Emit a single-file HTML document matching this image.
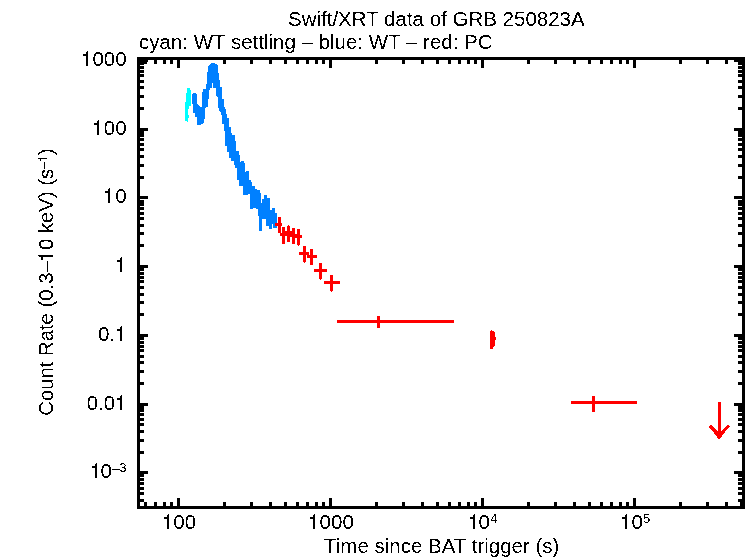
<!DOCTYPE html>
<html><head><meta charset="utf-8"><style>html,body{margin:0;padding:0;background:#fff;}svg{display:block;}</style></head>
<body><svg width="746" height="558" viewBox="0 0 746 558" shape-rendering="crispEdges">
<defs><filter id="th" x="0" y="0" width="746" height="558" filterUnits="userSpaceOnUse"><feComponentTransfer><feFuncA type="discrete" tableValues="0 1"/></feComponentTransfer></filter></defs>
<rect width="746" height="558" fill="#fff"/>
<rect x="137" y="57" width="608" height="3" fill="#000"/>
<rect x="137" y="506" width="608" height="3" fill="#000"/>
<rect x="137" y="57" width="3" height="452" fill="#000"/>
<rect x="742" y="57" width="3" height="452" fill="#000"/>
<rect x="144" y="502" width="3" height="4" fill="#000"/>
<rect x="144" y="60" width="3" height="4" fill="#000"/>
<rect x="154" y="502" width="3" height="4" fill="#000"/>
<rect x="154" y="60" width="3" height="4" fill="#000"/>
<rect x="163" y="502" width="3" height="4" fill="#000"/>
<rect x="163" y="60" width="3" height="4" fill="#000"/>
<rect x="170" y="502" width="3" height="4" fill="#000"/>
<rect x="170" y="60" width="3" height="4" fill="#000"/>
<rect x="177" y="498" width="3" height="8" fill="#000"/>
<rect x="177" y="60" width="3" height="8" fill="#000"/>
<rect x="223" y="502" width="3" height="4" fill="#000"/>
<rect x="223" y="60" width="3" height="4" fill="#000"/>
<rect x="250" y="502" width="3" height="4" fill="#000"/>
<rect x="250" y="60" width="3" height="4" fill="#000"/>
<rect x="269" y="502" width="3" height="4" fill="#000"/>
<rect x="269" y="60" width="3" height="4" fill="#000"/>
<rect x="284" y="502" width="3" height="4" fill="#000"/>
<rect x="284" y="60" width="3" height="4" fill="#000"/>
<rect x="296" y="502" width="3" height="4" fill="#000"/>
<rect x="296" y="60" width="3" height="4" fill="#000"/>
<rect x="306" y="502" width="3" height="4" fill="#000"/>
<rect x="306" y="60" width="3" height="4" fill="#000"/>
<rect x="315" y="502" width="3" height="4" fill="#000"/>
<rect x="315" y="60" width="3" height="4" fill="#000"/>
<rect x="322" y="502" width="3" height="4" fill="#000"/>
<rect x="322" y="60" width="3" height="4" fill="#000"/>
<rect x="329" y="498" width="3" height="8" fill="#000"/>
<rect x="329" y="60" width="3" height="8" fill="#000"/>
<rect x="375" y="502" width="3" height="4" fill="#000"/>
<rect x="375" y="60" width="3" height="4" fill="#000"/>
<rect x="402" y="502" width="3" height="4" fill="#000"/>
<rect x="402" y="60" width="3" height="4" fill="#000"/>
<rect x="421" y="502" width="3" height="4" fill="#000"/>
<rect x="421" y="60" width="3" height="4" fill="#000"/>
<rect x="436" y="502" width="3" height="4" fill="#000"/>
<rect x="436" y="60" width="3" height="4" fill="#000"/>
<rect x="448" y="502" width="3" height="4" fill="#000"/>
<rect x="448" y="60" width="3" height="4" fill="#000"/>
<rect x="458" y="502" width="3" height="4" fill="#000"/>
<rect x="458" y="60" width="3" height="4" fill="#000"/>
<rect x="467" y="502" width="3" height="4" fill="#000"/>
<rect x="467" y="60" width="3" height="4" fill="#000"/>
<rect x="474" y="502" width="3" height="4" fill="#000"/>
<rect x="474" y="60" width="3" height="4" fill="#000"/>
<rect x="481" y="498" width="3" height="8" fill="#000"/>
<rect x="481" y="60" width="3" height="8" fill="#000"/>
<rect x="527" y="502" width="3" height="4" fill="#000"/>
<rect x="527" y="60" width="3" height="4" fill="#000"/>
<rect x="554" y="502" width="3" height="4" fill="#000"/>
<rect x="554" y="60" width="3" height="4" fill="#000"/>
<rect x="573" y="502" width="3" height="4" fill="#000"/>
<rect x="573" y="60" width="3" height="4" fill="#000"/>
<rect x="588" y="502" width="3" height="4" fill="#000"/>
<rect x="588" y="60" width="3" height="4" fill="#000"/>
<rect x="600" y="502" width="3" height="4" fill="#000"/>
<rect x="600" y="60" width="3" height="4" fill="#000"/>
<rect x="610" y="502" width="3" height="4" fill="#000"/>
<rect x="610" y="60" width="3" height="4" fill="#000"/>
<rect x="619" y="502" width="3" height="4" fill="#000"/>
<rect x="619" y="60" width="3" height="4" fill="#000"/>
<rect x="626" y="502" width="3" height="4" fill="#000"/>
<rect x="626" y="60" width="3" height="4" fill="#000"/>
<rect x="633" y="498" width="3" height="8" fill="#000"/>
<rect x="633" y="60" width="3" height="8" fill="#000"/>
<rect x="679" y="502" width="3" height="4" fill="#000"/>
<rect x="679" y="60" width="3" height="4" fill="#000"/>
<rect x="706" y="502" width="3" height="4" fill="#000"/>
<rect x="706" y="60" width="3" height="4" fill="#000"/>
<rect x="725" y="502" width="3" height="4" fill="#000"/>
<rect x="725" y="60" width="3" height="4" fill="#000"/>
<rect x="740" y="502" width="3" height="4" fill="#000"/>
<rect x="740" y="60" width="3" height="4" fill="#000"/>
<rect x="140" y="499" width="4" height="3" fill="#000"/>
<rect x="738" y="499" width="4" height="3" fill="#000"/>
<rect x="140" y="492" width="4" height="3" fill="#000"/>
<rect x="738" y="492" width="4" height="3" fill="#000"/>
<rect x="140" y="487" width="4" height="3" fill="#000"/>
<rect x="738" y="487" width="4" height="3" fill="#000"/>
<rect x="140" y="482" width="4" height="3" fill="#000"/>
<rect x="738" y="482" width="4" height="3" fill="#000"/>
<rect x="140" y="478" width="4" height="3" fill="#000"/>
<rect x="738" y="478" width="4" height="3" fill="#000"/>
<rect x="140" y="474" width="4" height="3" fill="#000"/>
<rect x="738" y="474" width="4" height="3" fill="#000"/>
<rect x="140" y="471" width="8" height="3" fill="#000"/>
<rect x="734" y="471" width="8" height="3" fill="#000"/>
<rect x="140" y="451" width="4" height="3" fill="#000"/>
<rect x="738" y="451" width="4" height="3" fill="#000"/>
<rect x="140" y="439" width="4" height="3" fill="#000"/>
<rect x="738" y="439" width="4" height="3" fill="#000"/>
<rect x="140" y="430" width="4" height="3" fill="#000"/>
<rect x="738" y="430" width="4" height="3" fill="#000"/>
<rect x="140" y="423" width="4" height="3" fill="#000"/>
<rect x="738" y="423" width="4" height="3" fill="#000"/>
<rect x="140" y="418" width="4" height="3" fill="#000"/>
<rect x="738" y="418" width="4" height="3" fill="#000"/>
<rect x="140" y="413" width="4" height="3" fill="#000"/>
<rect x="738" y="413" width="4" height="3" fill="#000"/>
<rect x="140" y="409" width="4" height="3" fill="#000"/>
<rect x="738" y="409" width="4" height="3" fill="#000"/>
<rect x="140" y="406" width="4" height="3" fill="#000"/>
<rect x="738" y="406" width="4" height="3" fill="#000"/>
<rect x="140" y="403" width="8" height="3" fill="#000"/>
<rect x="734" y="403" width="8" height="3" fill="#000"/>
<rect x="140" y="382" width="4" height="3" fill="#000"/>
<rect x="738" y="382" width="4" height="3" fill="#000"/>
<rect x="140" y="370" width="4" height="3" fill="#000"/>
<rect x="738" y="370" width="4" height="3" fill="#000"/>
<rect x="140" y="361" width="4" height="3" fill="#000"/>
<rect x="738" y="361" width="4" height="3" fill="#000"/>
<rect x="140" y="355" width="4" height="3" fill="#000"/>
<rect x="738" y="355" width="4" height="3" fill="#000"/>
<rect x="140" y="349" width="4" height="3" fill="#000"/>
<rect x="738" y="349" width="4" height="3" fill="#000"/>
<rect x="140" y="345" width="4" height="3" fill="#000"/>
<rect x="738" y="345" width="4" height="3" fill="#000"/>
<rect x="140" y="341" width="4" height="3" fill="#000"/>
<rect x="738" y="341" width="4" height="3" fill="#000"/>
<rect x="140" y="337" width="4" height="3" fill="#000"/>
<rect x="738" y="337" width="4" height="3" fill="#000"/>
<rect x="140" y="334" width="8" height="3" fill="#000"/>
<rect x="734" y="334" width="8" height="3" fill="#000"/>
<rect x="140" y="313" width="4" height="3" fill="#000"/>
<rect x="738" y="313" width="4" height="3" fill="#000"/>
<rect x="140" y="301" width="4" height="3" fill="#000"/>
<rect x="738" y="301" width="4" height="3" fill="#000"/>
<rect x="140" y="293" width="4" height="3" fill="#000"/>
<rect x="738" y="293" width="4" height="3" fill="#000"/>
<rect x="140" y="286" width="4" height="3" fill="#000"/>
<rect x="738" y="286" width="4" height="3" fill="#000"/>
<rect x="140" y="280" width="4" height="3" fill="#000"/>
<rect x="738" y="280" width="4" height="3" fill="#000"/>
<rect x="140" y="276" width="4" height="3" fill="#000"/>
<rect x="738" y="276" width="4" height="3" fill="#000"/>
<rect x="140" y="272" width="4" height="3" fill="#000"/>
<rect x="738" y="272" width="4" height="3" fill="#000"/>
<rect x="140" y="268" width="4" height="3" fill="#000"/>
<rect x="738" y="268" width="4" height="3" fill="#000"/>
<rect x="140" y="265" width="8" height="3" fill="#000"/>
<rect x="734" y="265" width="8" height="3" fill="#000"/>
<rect x="140" y="244" width="4" height="3" fill="#000"/>
<rect x="738" y="244" width="4" height="3" fill="#000"/>
<rect x="140" y="232" width="4" height="3" fill="#000"/>
<rect x="738" y="232" width="4" height="3" fill="#000"/>
<rect x="140" y="224" width="4" height="3" fill="#000"/>
<rect x="738" y="224" width="4" height="3" fill="#000"/>
<rect x="140" y="217" width="4" height="3" fill="#000"/>
<rect x="738" y="217" width="4" height="3" fill="#000"/>
<rect x="140" y="212" width="4" height="3" fill="#000"/>
<rect x="738" y="212" width="4" height="3" fill="#000"/>
<rect x="140" y="207" width="4" height="3" fill="#000"/>
<rect x="738" y="207" width="4" height="3" fill="#000"/>
<rect x="140" y="203" width="4" height="3" fill="#000"/>
<rect x="738" y="203" width="4" height="3" fill="#000"/>
<rect x="140" y="200" width="4" height="3" fill="#000"/>
<rect x="738" y="200" width="4" height="3" fill="#000"/>
<rect x="140" y="196" width="8" height="3" fill="#000"/>
<rect x="734" y="196" width="8" height="3" fill="#000"/>
<rect x="140" y="176" width="4" height="3" fill="#000"/>
<rect x="738" y="176" width="4" height="3" fill="#000"/>
<rect x="140" y="164" width="4" height="3" fill="#000"/>
<rect x="738" y="164" width="4" height="3" fill="#000"/>
<rect x="140" y="155" width="4" height="3" fill="#000"/>
<rect x="738" y="155" width="4" height="3" fill="#000"/>
<rect x="140" y="148" width="4" height="3" fill="#000"/>
<rect x="738" y="148" width="4" height="3" fill="#000"/>
<rect x="140" y="143" width="4" height="3" fill="#000"/>
<rect x="738" y="143" width="4" height="3" fill="#000"/>
<rect x="140" y="138" width="4" height="3" fill="#000"/>
<rect x="738" y="138" width="4" height="3" fill="#000"/>
<rect x="140" y="134" width="4" height="3" fill="#000"/>
<rect x="738" y="134" width="4" height="3" fill="#000"/>
<rect x="140" y="131" width="4" height="3" fill="#000"/>
<rect x="738" y="131" width="4" height="3" fill="#000"/>
<rect x="140" y="128" width="8" height="3" fill="#000"/>
<rect x="734" y="128" width="8" height="3" fill="#000"/>
<rect x="140" y="107" width="4" height="3" fill="#000"/>
<rect x="738" y="107" width="4" height="3" fill="#000"/>
<rect x="140" y="95" width="4" height="3" fill="#000"/>
<rect x="738" y="95" width="4" height="3" fill="#000"/>
<rect x="140" y="86" width="4" height="3" fill="#000"/>
<rect x="738" y="86" width="4" height="3" fill="#000"/>
<rect x="140" y="80" width="4" height="3" fill="#000"/>
<rect x="738" y="80" width="4" height="3" fill="#000"/>
<rect x="140" y="74" width="4" height="3" fill="#000"/>
<rect x="738" y="74" width="4" height="3" fill="#000"/>
<rect x="140" y="70" width="4" height="3" fill="#000"/>
<rect x="738" y="70" width="4" height="3" fill="#000"/>
<rect x="140" y="66" width="4" height="3" fill="#000"/>
<rect x="738" y="66" width="4" height="3" fill="#000"/>
<rect x="140" y="62" width="4" height="3" fill="#000"/>
<rect x="738" y="62" width="4" height="3" fill="#000"/>
<rect x="140" y="59" width="8" height="3" fill="#000"/>
<rect x="734" y="59" width="8" height="3" fill="#000"/>
<polygon fill="#00ffff" points="187,88 190,88 190,90 191,90 191,106 189,106 189,109 188,109 188,115 189,115 189,118 188,118 188,121 187,122 186,121 185,121 185,102 186,102 186,93 187,93"/>
<polygon fill="#0080ff" points="192,94 193,93 196,93 197,95 197,104 200,107 202,107 202,92 203,92 203,89 206,89 206,84 207,84 207,72 208,72 208,66 209,65 210,64 211,63 214,63 216,64 217,65 218,66 218,73 219,73 219,80 220,80 220,87 222,87 222,99 224,99 224,107 225,107 225,109 226,109 226,114 227,114 227,118 229,118 229,127 231,127 231,133 232,133 232,135 235,135 235,141 236,141 236,151 239,151 239,155 240,155 240,162 241,162 241,161 244,161 244,163 245,163 245,172 246,172 246,171 249,171 249,180 251,180 251,182 252,182 252,186 255,186 255,189 257,189 257,190 260,190 260,193 261,193 261,203 262,203 262,199 264,199 264,195 267,195 267,198 270,198 270,210 272,210 272,208 275,208 275,212.6 277,212.6 277,227.5 273,227.5 273,224 272,224 272,229 269,229 269,225.5 266,225.5 266,218.5 262,218.5 262,231 259,231 259,216 258,216 258,209 256,209 256,208 253,208 253,209 250,209 250,195 249,194 248,194 248,195 243,195 243,186 239,186 239,180 237,180 237,168 235,168 235,165 233.5,165 233.5,161 231,161 231,158 229,158 229,152 227,152 227,146 225,146 225,131 224,131 224,124 222,124 222,115 221,115 221,112 220,112 219,111 219,107.5 218,107.5 218,97 216,96 216,88 213,88 213,83 212,83 212,88 210,88 210,90 209,90 209,98.5 208,98.5 208,107 206,107 206,108.4 205,108.4 205,119 204,119 204,123 200,125 197,125 197,117 195,117 195,113 193,113 193,104 192,104"/>
<g fill="#ff0000">
<rect x="278" y="217" width="3" height="16"/>
<rect x="275" y="223" width="7" height="3"/>
<rect x="282" y="227" width="3" height="17"/>
<rect x="280" y="233" width="9" height="3"/>
<rect x="287" y="226" width="3" height="16"/>
<rect x="288" y="225" width="1" height="1"/>
<rect x="285" y="231" width="9" height="3"/>
<rect x="292" y="228" width="3" height="16"/>
<rect x="290" y="234" width="9" height="3"/>
<rect x="297" y="229" width="3" height="16"/>
<rect x="298" y="245" width="1" height="1"/>
<rect x="295" y="235" width="7" height="3"/>
<rect x="303" y="246" width="3" height="16"/>
<rect x="304" y="262" width="1" height="1"/>
<rect x="299" y="252" width="10" height="3"/>
<rect x="310" y="249" width="3" height="16"/>
<rect x="307" y="255" width="10" height="3"/>
<rect x="319" y="263" width="3" height="16"/>
<rect x="320" y="279" width="1" height="1"/>
<rect x="314" y="269" width="13" height="3"/>
<rect x="330" y="275" width="3" height="16"/>
<rect x="331" y="291" width="1" height="1"/>
<rect x="324" y="281" width="16" height="3"/>
<rect x="337" y="320" width="117" height="3"/>
<rect x="377" y="316" width="3" height="12"/>
<rect x="571" y="401" width="66" height="3"/>
<rect x="592" y="396" width="3" height="16"/>
<rect x="718" y="402" width="3" height="30"/>
<polygon fill="#ff0000" points="490,331 491,331 491,330 492,330 492,331 494,331 494,332 495,332 495,337 496,337 496,340 495,340 495,346 494,346 494,347 493,347 493,349 490,349"/>
</g>
<polygon fill="#ff0000" points="710.8,424.8 718,431.2 721,431.2 728.1,424.8 730.1,426.5 722.9,434.3 720.2,438.8 718,438.8 716,435.5 708.8,426.7"/>
<g filter="url(#th)"><g font-family="Liberation Sans, sans-serif" fill="#000" font-size="20.5">
<text x="288" y="26">Swift/XRT data of GRB 250823A</text>
<text x="139" y="49">cyan: WT settling – blue: WT – red: PC</text>
<text x="324" y="553">Time since BAT trigger (s)</text>
<text x="81.00" y="66"> 000</text>
<text x="92.40" y="135"> 00</text>
<text x="103.80" y="203"> 0</text>
<text x="115.20" y="272"> </text>
<text x="98.10" y="341">0. </text>
<text x="86.70" y="410">0.0 </text>
<text x="100.4" y="478">0</text>
<text x="119.4" y="472" font-size="12.5">3</text>
<text x="173.3" y="529">00</text>
<text x="319.6" y="529">000</text>
<text x="478.4" y="529">0</text>
<text x="490.5" y="523" font-size="12.5">4</text>
<text x="631.6" y="529">0</text>
<text x="643.2" y="523" font-size="12.5">5</text>
<text x="0" y="0" font-size="20.3" transform="translate(53.2,155) rotate(-90)">)</text>
<g transform="translate(53.2,415.7) rotate(-90)"><text x="0" y="0" font-size="20.3">Count Rate (0.3– 0 keV) (s</text><rect x="156" y="-12" width="3" height="2"/><rect x="159" y="-14" width="2" height="14"/><rect x="160" y="-15" width="1" height="1"/></g>
</g></g>
<g fill="#000"><rect x="83" y="54" width="3" height="2"/><rect x="86" y="52" width="2" height="14"/><rect x="87" y="51" width="1" height="1"/><rect x="94" y="123" width="3" height="2"/><rect x="97" y="121" width="2" height="14"/><rect x="98" y="120" width="1" height="1"/><rect x="105" y="191" width="3" height="2"/><rect x="108" y="189" width="2" height="14"/><rect x="109" y="188" width="1" height="1"/><rect x="117" y="260" width="3" height="2"/><rect x="120" y="258" width="2" height="14"/><rect x="121" y="257" width="1" height="1"/><rect x="117" y="329" width="3" height="2"/><rect x="120" y="327" width="2" height="14"/><rect x="121" y="326" width="1" height="1"/><rect x="117" y="398" width="3" height="2"/><rect x="120" y="396" width="2" height="14"/><rect x="121" y="395" width="1" height="1"/><rect x="92" y="466" width="3" height="2"/><rect x="95" y="464" width="2" height="14"/><rect x="96" y="463" width="1" height="1"/><rect x="112" y="469" width="8" height="1"/><rect x="164" y="517" width="3" height="2"/><rect x="167" y="515" width="2" height="14"/><rect x="168" y="514" width="1" height="1"/><rect x="310" y="517" width="3" height="2"/><rect x="313" y="515" width="2" height="14"/><rect x="314" y="514" width="1" height="1"/><rect x="470" y="517" width="3" height="2"/><rect x="473" y="515" width="2" height="14"/><rect x="474" y="514" width="1" height="1"/><rect x="622" y="517" width="3" height="2"/><rect x="625" y="515" width="2" height="14"/><rect x="626" y="514" width="1" height="1"/><rect x="38" y="158" width="9" height="1"/><rect x="40" y="159" width="1" height="2"/><rect x="44" y="162" width="1" height="7"/></g>
</svg></body></html>
